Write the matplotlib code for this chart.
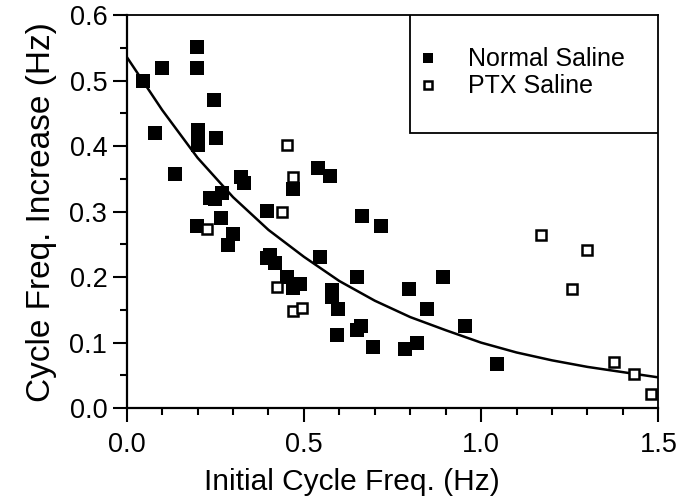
import matplotlib.pyplot as plt
from matplotlib.patches import Rectangle
from matplotlib.ticker import MultipleLocator

plt.rcParams['font.family'] = ['Liberation Sans', 'DejaVu Sans']

# Normal saline (filled squares)
normal_x = [0.047, 0.081, 0.100, 0.136, 0.199, 0.198, 0.200, 0.200, 0.200, 0.247,
            0.252, 0.197, 0.235, 0.250, 0.268, 0.266, 0.287, 0.299, 0.322, 0.330,
            0.395, 0.397, 0.404, 0.418, 0.451, 0.470, 0.470, 0.490, 0.541, 0.574,
            0.545, 0.578, 0.580, 0.597, 0.593, 0.663, 0.717, 0.649, 0.649, 0.660,
            0.694, 0.785, 0.818, 0.797, 0.846, 0.893, 0.955, 1.044]
normal_y = [0.500, 0.420, 0.519, 0.358, 0.551, 0.519, 0.424, 0.414, 0.401, 0.470,
            0.412, 0.278, 0.320, 0.319, 0.328, 0.290, 0.249, 0.266, 0.353, 0.344,
            0.301, 0.229, 0.234, 0.221, 0.200, 0.334, 0.183, 0.190, 0.367, 0.355,
            0.231, 0.180, 0.170, 0.152, 0.112, 0.293, 0.278, 0.200, 0.120, 0.126,
            0.093, 0.090, 0.100, 0.182, 0.152, 0.200, 0.125, 0.067]

# PTX saline (open squares)
ptx_x = [0.226, 0.437, 0.451, 0.470, 0.423, 0.470, 0.494, 1.169, 1.300, 1.257,
         1.376, 1.431, 1.479]
ptx_y = [0.274, 0.300, 0.402, 0.352, 0.185, 0.148, 0.153, 0.265, 0.242, 0.182,
         0.071, 0.052, 0.021]

# fitted curve
fit_x = [0.0, 0.1, 0.2, 0.3, 0.4, 0.5, 0.6, 0.7, 0.8, 0.9, 1.0, 1.1, 1.2, 1.3, 1.4, 1.5]
fit_y = [0.536, 0.455, 0.382, 0.322, 0.272, 0.231, 0.194, 0.164, 0.139, 0.119,
         0.100, 0.085, 0.073, 0.063, 0.055, 0.047]

fig = plt.figure(figsize=(6.94, 4.99), dpi=100)
ax = fig.add_axes([0.1826, 0.182, 0.766, 0.788])

ax.plot(fit_x, fit_y, color='black', lw=1.8, zorder=2)
ax.plot(normal_x, normal_y, 's', color='black', ms=9.5, mec='black', mew=0,
        label='Normal Saline', zorder=3, clip_on=False)
ax.plot(ptx_x, ptx_y, 's', mfc='white', mec='black', ms=7.5, mew=1.8,
        label='PTX Saline', zorder=4, clip_on=False)

ax.set_xlim(0, 1.5)
ax.set_ylim(0, 0.6)
ax.xaxis.set_major_locator(MultipleLocator(0.5))
ax.xaxis.set_minor_locator(MultipleLocator(0.1))
ax.yaxis.set_major_locator(MultipleLocator(0.1))
ax.yaxis.set_minor_locator(MultipleLocator(0.05))
ax.xaxis.set_major_formatter(plt.FormatStrFormatter('%.1f'))
ax.yaxis.set_major_formatter(plt.FormatStrFormatter('%.1f'))

ax.tick_params(which='major', direction='out', length=10, width=1.5,
               labelsize=19.5, pad=4)
ax.tick_params(which='minor', direction='out', length=5, width=1.5)
ax.tick_params(axis='x', which='major', pad=7)

for side in ['left', 'bottom']:
    ax.spines[side].set_linewidth(1.6)
for side in ['top', 'right']:
    ax.spines[side].set_linewidth(1.3)

ax.set_xlabel('Initial Cycle Freq. (Hz)', fontsize=21.5, labelpad=7, x=0.424)
ax.set_ylabel('Cycle Freq. Increase (Hz)', fontsize=24, labelpad=9)

# legend box
ax.add_patch(Rectangle((0.533, 0.70), 0.467, 0.30, transform=ax.transAxes,
                       facecolor='white', edgecolor='black', lw=1.3, zorder=5))
ax.legend(loc='upper left', bbox_to_anchor=(0.50, 0.975), frameon=False,
          fontsize=18, markerscale=0.8, handlelength=1.0, handletextpad=1.1,
          labelspacing=0.12).set_zorder(6)

fig.savefig('out.png', dpi=100)
